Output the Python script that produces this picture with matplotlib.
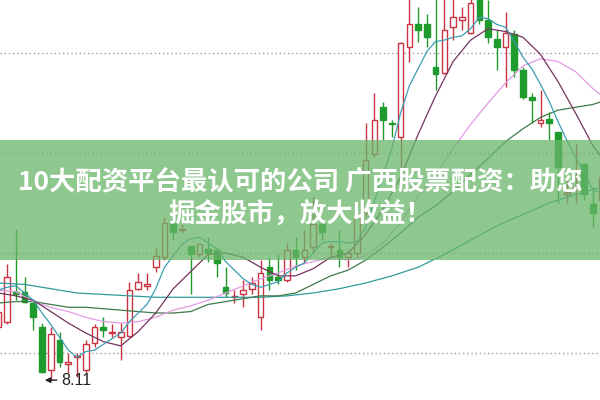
import matplotlib.pyplot as plt
from matplotlib.patches import Rectangle

# daily candles (price)
opens = [8.48, 8.52, 8.73, 8.73, 8.65, 8.48, 8.18, 8.39, 8.22, 8.27,
         8.18, 8.37, 8.48, 8.44, 8.41, 8.42, 8.75, 8.77, 8.90, 8.97,
         9.21, 9.16, 9.05, 8.99, 9.03, 9.02, 8.76, 8.69, 8.71, 8.75,
         8.55, 8.90, 8.83, 8.81, 9.02, 8.97, 9.04, 9.20, 9.04, 9.02,
         8.97, 9.00, 9.29, 9.69, 10.02, 9.91, 9.81, 10.44, 10.60, 10.60,
         10.30, 10.26, 10.58, 10.63, 10.54, 10.79, 10.63, 10.50, 10.44, 10.53,
         10.28, 10.09, 9.91, 9.94, 9.85, 9.41, 9.45, 9.62, 9.34, 9.37]
closes = [8.59, 8.83, 8.71, 8.66, 8.55, 8.17, 8.43, 8.24, 8.24, 8.28,
          8.36, 8.48, 8.46, 8.45, 8.45, 8.74, 8.80, 8.78, 8.98, 9.21,
          9.15, 9.17, 8.99, 9.06, 9.00, 8.93, 8.72, 8.70, 8.74, 8.79,
          8.86, 8.81, 8.81, 9.02, 8.97, 9.02, 9.20, 9.15, 9.05, 8.97,
          9.00, 9.25, 9.65, 9.93, 9.93, 9.90, 10.47, 10.60, 10.56, 10.51,
          10.25, 10.56, 10.65, 10.65, 10.75, 10.63, 10.51, 10.44, 10.54, 10.28,
          10.09, 10.07, 9.93, 9.91, 9.60, 9.43, 9.47, 9.41, 9.28, 9.53]
highs = [8.64, 8.92, 9.17, 8.83, 8.67, 8.51, 8.48, 8.45, 8.30, 8.30,
         8.39, 8.50, 8.55, 8.50, 8.51, 8.80, 8.86, 8.86, 9.04, 9.25,
         9.25, 9.20, 9.05, 9.07, 9.11, 9.04, 8.90, 8.74, 8.81, 8.83,
         8.95, 8.97, 8.99, 9.07, 9.11, 9.16, 9.39, 9.25, 9.07, 9.16,
         9.02, 9.28, 9.91, 10.12, 10.06, 9.93, 10.48, 10.81, 10.72, 10.67,
         10.84, 10.81, 10.81, 10.72, 10.83, 10.84, 10.77, 10.56, 10.69, 10.56,
         10.30, 10.12, 10.14, 9.99, 9.85, 9.51, 9.77, 9.63, 9.46, 9.58]
lows = [8.45, 8.50, 8.67, 8.65, 8.46, 8.16, 8.11, 8.20, 8.16, 8.13,
        8.16, 8.34, 8.41, 8.41, 8.25, 8.41, 8.74, 8.74, 8.87, 8.95,
        9.09, 9.14, 8.71, 8.97, 8.94, 8.83, 8.69, 8.65, 8.62, 8.71,
        8.46, 8.74, 8.78, 8.80, 8.88, 8.93, 9.00, 9.09, 8.97, 8.90,
        8.90, 8.97, 9.25, 9.67, 9.79, 9.81, 9.60, 10.34, 10.48, 10.44,
        10.14, 10.25, 10.49, 10.56, 10.53, 10.60, 10.47, 10.28, 10.16, 10.23,
        10.08, 9.91, 9.88, 9.79, 9.35, 9.35, 9.35, 9.37, 9.18, 9.34]

# moving average lines
ma5 = [8.74, 8.76, 8.77, 8.72, 8.67, 8.58, 8.50, 8.41, 8.32, 8.27,
       8.31, 8.32, 8.36, 8.40, 8.44, 8.52, 8.58, 8.64, 8.75, 8.90,
       8.98, 9.06, 9.10, 9.11, 9.07, 9.03, 8.94, 8.88, 8.82, 8.78,
       8.76, 8.78, 8.80, 8.86, 8.90, 8.93, 9.00, 9.07, 9.08, 9.08,
       9.07, 9.08, 9.18, 9.36, 9.55, 9.73, 9.98, 10.17, 10.29, 10.41,
       10.48, 10.49, 10.51, 10.52, 10.57, 10.65, 10.64, 10.60, 10.58, 10.48,
       10.37, 10.29, 10.18, 10.06, 9.92, 9.79, 9.67, 9.56, 9.44, 9.42]
days2 = list(range(0, 70, 2)) + [69]
ma10 = [8.72, 8.70, 8.67, 8.59, 8.51, 8.44, 8.38, 8.35, 8.45, 8.58,
        8.75, 8.87, 8.99, 9.00, 8.97, 8.90, 8.84, 8.84, 8.89, 8.97,
        9.00, 9.13, 9.31, 9.53, 9.83, 10.10, 10.34, 10.49, 10.57, 10.55,
        10.51, 10.39, 10.20, 9.98, 9.75, 9.67]
ma20 = [8.74, 8.73, 8.66, 8.62, 8.59, 8.55, 8.52, 8.51, 8.52, 8.55,
        8.60, 8.63, 8.67, 8.72, 8.77, 8.82, 8.86, 8.91, 8.94, 8.97,
        8.95, 8.98, 9.07, 9.21, 9.40, 9.55, 9.73, 9.90, 10.05, 10.19,
        10.31, 10.36, 10.34, 10.27, 10.15, 10.10]
ma30 = [8.65, 8.66, 8.66, 8.64, 8.62, 8.62, 8.61, 8.60, 8.59, 8.58,
        8.58, 8.59, 8.64, 8.66, 8.68, 8.70, 8.70, 8.72, 8.78, 8.84,
        8.88, 8.95, 9.04, 9.14, 9.25, 9.33, 9.43, 9.55, 9.66, 9.78,
        9.87, 9.95, 10.00, 10.02, 10.04, 10.06]
days3 = list(range(0, 70, 3))
ma60 = [8.79, 8.78, 8.75, 8.72, 8.71, 8.70, 8.69, 8.69, 8.69, 8.69,
        8.69, 8.70, 8.72, 8.75, 8.79, 8.84, 8.90, 8.99, 9.09, 9.19,
        9.27, 9.35, 9.41, 9.46]

grid_levels = [8.30, 9.00, 9.70, 10.40]
low_mark = 8.11
title1 = '10大配资平台最认可的公司 广西股票配资：助您'
title2 = '掘金股市，放大收益！'

up_col = '#cc3340'
dn_col = '#1f9a2c'

fig = plt.figure(figsize=(6, 4), dpi=100)
ax = fig.add_axes([0, 0, 1, 1])
ax.set_xlim(0.194, 68.80)
ax.set_ylim(7.971, 10.771)
ax.axis('off')

for g in grid_levels:
    ax.axhline(g, color='#999999', lw=1, ls=(0, (1, 2)), zorder=1)

w = 0.64
for i in range(len(opens)):
    o, h, l, c = opens[i], highs[i], lows[i], closes[i]
    bot = min(o, c)
    top = max(o, c)
    hgt = max(top - bot, 0.006)
    if c >= o:
        ax.vlines(i, l, bot, color=up_col, lw=1, zorder=2)
        ax.vlines(i, bot + hgt, h, color=up_col, lw=1, zorder=2)
        ax.add_patch(Rectangle((i - w / 2, bot), w, hgt, facecolor='white',
                               edgecolor=up_col, lw=1, zorder=3))
    else:
        ax.vlines(i, l, h, color=dn_col, lw=1, zorder=2)
        ax.add_patch(Rectangle((i - w / 2, bot), w, hgt, facecolor=dn_col,
                               edgecolor=dn_col, lw=1, zorder=3))

ax.plot(days3, ma60, color='#2f9c9a', lw=0.9, zorder=4)
ax.plot(days2, ma30, color='#3f7a4c', lw=0.9, zorder=4)
ax.plot(days2, ma20, color='#e39ae3', lw=0.9, zorder=4)
ax.plot(days2, ma10, color='#74355f', lw=0.9, zorder=4)
ax.plot(range(len(ma5)), ma5, color='#3c9db2', lw=0.9, zorder=4)

# lowest point marker
ax.annotate('', xy=(5.0, low_mark), xytext=(7.0, low_mark),
            arrowprops=dict(arrowstyle='-|>', color='#222222', lw=1, mutation_scale=8),
            zorder=5)
ax.text(7.15, low_mark, '8.11', fontsize=11.5, family='Liberation Sans',
        color='#222222', va='center', ha='left', zorder=5)

# green banner with title
ax.add_patch(Rectangle((0, 0.35), 1, 0.30, transform=ax.transAxes,
                       facecolor='#6ab66a', alpha=0.75, lw=0, zorder=6))
cjk = ['Noto Sans CJK SC', 'DejaVu Sans']
fig.text(0.5, 1 - 183 / 400, title1, ha='center', va='center', fontsize=19,
         fontweight='bold', color='white', family=cjk, zorder=7)
fig.text(0.5, 1 - 215 / 400, title2, ha='center', va='center', fontsize=19,
         fontweight='bold', color='white', family=cjk, zorder=7)

fig.savefig('out.png', dpi=100)
